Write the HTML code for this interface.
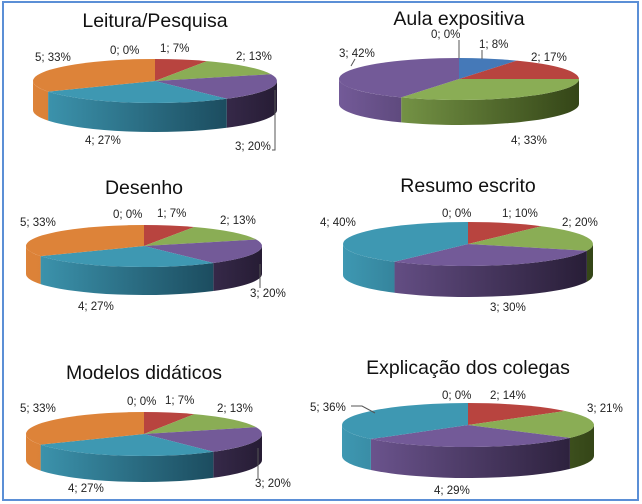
<!DOCTYPE html>
<html><head><meta charset="utf-8"><style>
body{margin:0;background:#fff}
svg{display:block}
text{font-family:"Liberation Sans",sans-serif;fill:#222}
.t{font-size:19.5px;text-anchor:middle;fill:#111}
.l{font-size:11.5px}
</style></head><body>
<svg id="s" width="642" height="504" viewBox="0 0 642 504" xmlns="http://www.w3.org/2000/svg">
<rect x="3" y="2" width="635" height="498" fill="#fff" stroke="#5b8fd6" stroke-width="2"/>
<defs id="d"></defs>
<g id="g"></g>
<text class="t" x="155" y="27">Leitura/Pesquisa</text>
<text class="t" x="459" y="25">Aula expositiva</text>
<text class="t" x="144" y="194">Desenho</text>
<text class="t" x="468" y="192">Resumo escrito</text>
<text class="t" x="144" y="379">Modelos didáticos</text>
<text class="t" x="468" y="374">Explicação dos colegas</text>
<g class="l">
<text x="35" y="61">5; 33%</text><text x="110" y="54">0; 0%</text><text x="160" y="52">1; 7%</text><text x="236" y="60">2; 13%</text><text x="85" y="144">4; 27%</text><text x="235" y="150">3; 20%</text>
<text x="431" y="38">0; 0%</text><text x="479" y="48">1; 8%</text><text x="531" y="61">2; 17%</text><text x="339" y="57">3; 42%</text><text x="511" y="144">4; 33%</text>
<text x="20" y="226">5; 33%</text><text x="113" y="218">0; 0%</text><text x="157" y="217">1; 7%</text><text x="220" y="224">2; 13%</text><text x="78" y="310">4; 27%</text><text x="250" y="297">3; 20%</text>
<text x="320" y="226">4; 40%</text><text x="442" y="217">0; 0%</text><text x="502" y="217">1; 10%</text><text x="562" y="226">2; 20%</text><text x="490" y="311">3; 30%</text>
<text x="20" y="412">5; 33%</text><text x="127" y="405">0; 0%</text><text x="165" y="404">1; 7%</text><text x="217" y="412">2; 13%</text><text x="68" y="492">4; 27%</text><text x="255" y="487">3; 20%</text>
<text x="310" y="411">5; 36%</text><text x="442" y="399">0; 0%</text><text x="490" y="399">2; 14%</text><text x="587" y="412">3; 21%</text><text x="434" y="494">4; 29%</text>
</g>
<g stroke="#555" stroke-width="1" fill="none">
<path d="M275 90 V150 H272"/>
<path d="M459 40 V58"/><path d="M482 50 V59"/><path d="M355 59 L351 66"/>
<path d="M260 264 V288"/><path d="M258 448 V478"/>
<path d="M351 406 H362 L375 413"/>
</g>
</svg>
<script>
var C={r:["#b8443f","#5c1e1c"],g:["#8aad55","#344517"],p:["#735a98","#261c34"],t:["#3e98b2","#13394a"],o:["#dd8339","#b8641f"],b:["#4579b8","#1f3a5c"]};
var P=[
[155,81,122,22,29,[["r",7],["g",13],["p",20],["t",27],["o",33]]],
[459,79,120,21,25,[["b",8],["r",17],["g",33],["p",42]]],
[144,246,118,21,28,[["r",7],["g",13],["p",20],["t",27],["o",33]]],
[468,244,125,22,31,[["r",10],["g",20],["p",30],["t",40]]],
[144,434,118,22,26,[["r",7],["g",13],["p",20],["t",27],["o",33]]],
[468,425,126,22,31,[["r",14],["g",21],["p",29],["t",36]]]];
var g=document.getElementById("g"),d=document.getElementById("d"),h="",dh="",n=0;
function pt(cx,cy,rx,ry,a){a=a*Math.PI/180;return [cx+rx*Math.cos(a),cy+ry*Math.sin(a)];}
P.forEach(function(q){var cx=q[0],cy=q[1],rx=q[2],ry=q[3],dp=q[4],sl=q[5],tot=0;sl.forEach(function(s){tot+=s[1]});
var cum=0,sides="",tops="";
sl.forEach(function(s){var a1=-90+360*cum/tot;cum+=s[1];var a2=-90+360*cum/tot;var c=C[s[0]];
var id="gr"+(n++);
dh+='<linearGradient id="'+id+'" gradientUnits="userSpaceOnUse" x1="'+(cx-rx)+'" y1="0" x2="'+(cx+rx)+'" y2="0"><stop offset="0" stop-color="'+c[0]+'"/><stop offset="1" stop-color="'+c[1]+'"/></linearGradient>';
var ranges=[[0,180],[360,540],[-360,-180]];
ranges.forEach(function(r){var b1=Math.max(a1,r[0]),b2=Math.min(a2,r[1]);if(b2>b1){
var p1=pt(cx,cy,rx,ry,b1),p2=pt(cx,cy,rx,ry,b2);
sides+='<path fill="url(#'+id+')" d="M'+p1[0]+' '+p1[1]+' A'+rx+' '+ry+' 0 0 1 '+p2[0]+' '+p2[1]+' L'+p2[0]+' '+(p2[1]+dp)+' A'+rx+' '+ry+' 0 0 0 '+p1[0]+' '+(p1[1]+dp)+'Z"/>';}});
var p1=pt(cx,cy,rx,ry,a1),p2=pt(cx,cy,rx,ry,a2),lg=(a2-a1)>180?1:0;
tops+='<path fill="'+c[0]+'" d="M'+cx+' '+cy+' L'+p1[0]+' '+p1[1]+' A'+rx+' '+ry+' 0 '+lg+' 1 '+p2[0]+' '+p2[1]+'Z"/>';
});
h+=sides+tops;});
d.innerHTML=dh;g.innerHTML=h;
</script>
</body></html>
